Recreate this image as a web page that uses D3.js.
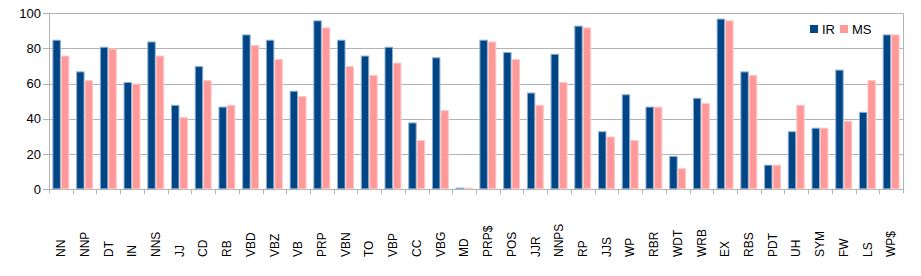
<!DOCTYPE html>
<html>
<head>
<meta charset="utf-8">
<script src="https://cdn.jsdelivr.net/npm/d3@7"></script>
<style>
  body { margin: 0; background: #fff; }
  svg { display: block; font-family: "Liberation Sans", Arial, sans-serif; }
</style>
</head>
<body>
<svg width="921" height="276"></svg>
<script>
const tags = ["NN", "NNP", "DT", "IN", "NNS", "JJ", "CD", "RB", "VBD", "VBZ", "VB", "PRP",
  "VBN", "TO", "VBP", "CC", "VBG", "MD", "PRP$", "POS", "JJR", "NNPS", "RP", "JJS",
  "WP", "RBR", "WDT", "WRB", "EX", "RBS", "PDT", "UH", "SYM", "FW", "LS", "WP$"];
const irValues = [85, 67, 81, 61, 84, 48, 70, 47, 88, 85, 56, 96,
  85, 76, 81, 38, 75, 1, 85, 78, 55, 77, 93, 33,
  54, 47, 19, 52, 97, 67, 14, 33, 35, 68, 44, 88];
const msValues = [76, 62, 80, 60, 76, 41, 62, 48, 82, 74, 53, 92,
  70, 65, 72, 28, 45, 1, 84, 74, 48, 61, 92, 30,
  28, 47, 12, 49, 96, 65, 14, 48, 35, 39, 62, 88];
const seriesNames = ["IR", "MS"];
const yTicks = [0, 20, 40, 60, 80, 100];

const colors = {IR: "#004586", MS: "#ff9999"};
const edges = {IR: "#8fb0d0", MS: "#ffc8c8"};

const svg = d3.select("svg");
const plotL = 49, plotR = 903, plotT = 13.3, plotB = 189.3;

const x = d3.scaleBand().domain(tags).range([plotL, plotR]);
const x1 = d3.scaleBand().domain(seriesNames).range([3.4, x.bandwidth() - 3.4]);
const y = d3.scaleLinear().domain([0, 100]).range([plotB, plotT]);

// grid
svg.append("g").selectAll("line").data(yTicks).join("line")
  .attr("x1", plotL - 6).attr("x2", plotR)
  .attr("y1", d => Math.round(y(d)) + 0.5).attr("y2", d => Math.round(y(d)) + 0.5)
  .attr("stroke", "#b3b3b3");

// y labels
svg.append("g").selectAll("text").data(yTicks).join("text")
  .attr("x", 41).attr("y", d => y(d)).attr("dy", "0.35em")
  .attr("text-anchor", "end").attr("font-size", 13).attr("fill", "#000")
  .text(d => d);

// bars
const rows = tags.map((t, i) => ({tag: t, IR: irValues[i], MS: msValues[i]}));
const grp = svg.append("g").selectAll("g").data(rows).join("g")
  .attr("transform", d => `translate(${x(d.tag)},0)`);
grp.selectAll("rect").data(d => seriesNames.map(s => ({s, v: d[s]}))).join("rect")
  .attr("x", d => x1(d.s) + 0.5)
  .attr("y", d => y(d.v) + 0.5)
  .attr("width", x1.bandwidth() - 1)
  .attr("height", d => Math.max(0, plotB - y(d.v) - 1))
  .attr("fill", d => colors[d.s])
  .attr("stroke", d => edges[d.s]);

// axis frame
svg.append("line").attr("x1", plotL + 0.5).attr("x2", plotL + 0.5).attr("y1", plotT).attr("y2", plotB + 4)
  .attr("stroke", "#b3b3b3");
svg.append("line").attr("x1", plotR + 0.5).attr("x2", plotR + 0.5).attr("y1", plotT).attr("y2", plotB + 4)
  .attr("stroke", "#b3b3b3");

// x ticks at category boundaries
svg.append("g").selectAll("line").data(tags.slice(1)).join("line")
  .attr("x1", d => Math.round(x(d)) + 0.5).attr("x2", d => Math.round(x(d)) + 0.5)
  .attr("y1", plotB).attr("y2", plotB + 5)
  .attr("stroke", "#b3b3b3");

// x labels
svg.append("g").selectAll("text").data(tags).join("text")
  .attr("transform", d => `translate(${x(d) + x.bandwidth() / 2},257) rotate(-90)`)
  .attr("dy", "0.35em").attr("font-size", 12).attr("fill", "#000")
  .text(d => d);

// legend
const legend = svg.append("g").attr("transform", "translate(810,29)");
const li = legend.selectAll("g").data(seriesNames).join("g")
  .attr("transform", (d, i) => `translate(${i * 30},0)`);
li.append("rect").attr("x", 0).attr("y", -4).attr("width", 8).attr("height", 8)
  .attr("fill", d => colors[d]);
li.append("text").attr("x", 12).attr("dy", "0.35em").attr("font-size", 13)
  .attr("fill", "#000").text(d => d);
</script>
</body>
</html>
